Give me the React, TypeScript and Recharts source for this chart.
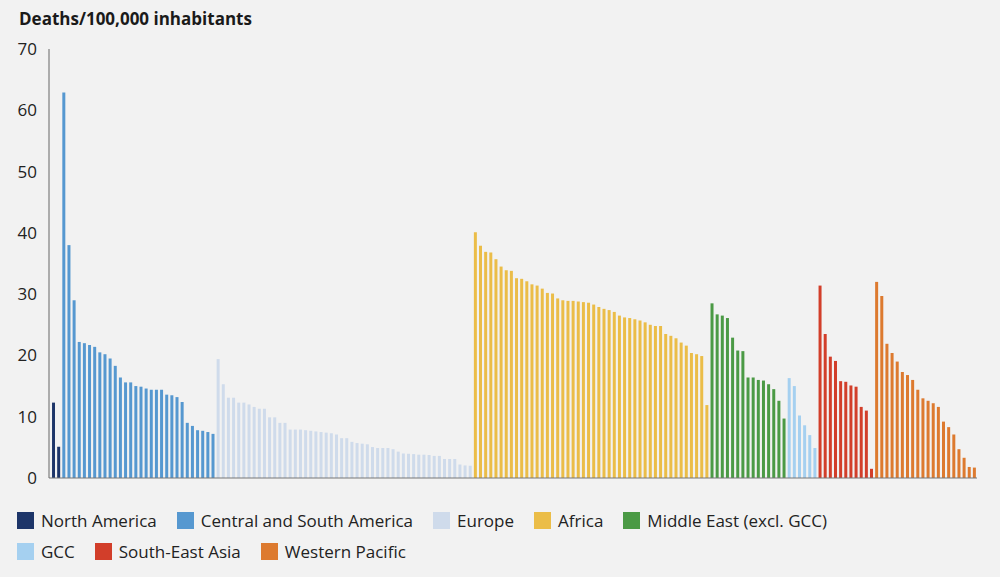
import React from "react";
import { BarChart, Bar, XAxis, YAxis, Cell } from "recharts";

const regions = [
  "North America",
  "Central and South America",
  "Europe",
  "Africa",
  "Middle East (excl. GCC)",
  "GCC",
  "South-East Asia",
  "Western Pacific",
];

const regionColors = [
  "#1d3569",
  "#5698d0",
  "#cfdbeb",
  "#ebbd48",
  "#4b9a45",
  "#a5d0f0",
  "#d23e2a",
  "#dd7a2f",
];

const northAmerica = [12.3, 5.1];
const centralSouthAmerica = [
  62.9, 38.0, 29.0, 22.2, 22.0, 21.7, 21.4, 20.5, 20.2, 19.5,
  18.3, 16.4, 15.6, 15.6, 15.0, 14.9, 14.6, 14.4, 14.4, 14.4,
  13.6, 13.5, 13.2, 12.4, 9.0, 8.5, 7.8, 7.7, 7.5, 7.2,
];
const europe = [
  19.4, 15.3, 13.1, 13.1, 12.3, 12.3, 12.0, 11.6, 11.3, 11.3,
  9.9, 9.9, 9.0, 9.0, 7.9, 7.9, 7.9, 7.8, 7.7, 7.6,
  7.5, 7.4, 7.3, 7.1, 6.5, 6.5, 5.9, 5.7, 5.6, 5.5,
  5.05, 4.9, 4.9, 4.9, 4.7, 4.3, 4.0, 3.95, 3.9, 3.8,
  3.8, 3.75, 3.6, 3.6, 3.1, 3.1, 3.1, 2.2, 2.05, 2.0,
];
const africa = [
  40.1, 37.9, 36.9, 36.8, 35.7, 34.5, 33.9, 33.8, 32.6, 32.5,
  32.1, 31.6, 31.4, 30.9, 30.2, 30.1, 29.3, 29.0, 28.9, 28.9,
  28.8, 28.7, 28.6, 28.3, 27.9, 27.6, 27.4, 27.1, 26.5, 26.2,
  26.1, 25.9, 25.7, 25.4, 25.0, 24.8, 24.8, 23.5, 23.2, 22.8,
  22.1, 21.6, 20.4, 20.2, 19.9, 11.9,
];
const middleEast = [
  28.5, 26.7, 26.5, 26.1, 22.9, 20.8, 20.7, 16.4, 16.4, 16.0,
  15.9, 15.3, 14.5, 12.6, 9.7,
];
const gcc = [16.3, 15.0, 10.2, 8.6, 7.0, 4.9];
const southEastAsia = [31.4, 23.5, 19.8, 19.1, 15.8, 15.7, 15.1, 14.9, 11.6, 11.0, 1.5];
const westernPacific = [
  32.0, 29.7, 21.9, 20.4, 19.0, 17.3, 16.8, 16.0, 14.4, 13.0,
  12.6, 12.2, 11.6, 9.2, 8.3, 7.1, 4.7, 3.3, 1.8, 1.7,
];

const yTicks = [0, 10, 20, 30, 40, 50, 60, 70];
const title = "Deaths/100,000 inhabitants";

const seriesByRegion = [
  northAmerica,
  centralSouthAmerica,
  europe,
  africa,
  middleEast,
  gcc,
  southEastAsia,
  westernPacific,
];

const data = seriesByRegion.flatMap((vals, r) =>
  vals.map((v, j) => ({ key: `${r}-${j}`, value: v, region: r }))
);

export default function App() {
  return (
    <div
      style={{
        position: "absolute",
        left: 0,
        top: 0,
        width: 1000,
        height: 577,
        background: "#f2f2f2",
        fontFamily: "'Open Sans', sans-serif",
        color: "#222",
        overflow: "hidden",
      }}
    >
      <div
        style={{
          position: "absolute",
          left: 19,
          top: 9,
          fontSize: 17,
          fontWeight: 700,
          lineHeight: "20px",
          color: "#1a1a1a",
          whiteSpace: "nowrap",
        }}
      >
        {title}
      </div>
      <div style={{ position: "absolute", left: 0, top: 0 }}>
        <BarChart
          width={1000}
          height={490}
          data={data}
          margin={{ top: 49, right: 23, left: 0, bottom: 0 }}
          barCategoryGap="20%"
        >
          <XAxis
            dataKey="key"
            height={12}
            interval={0}
            tick={false}
            tickLine={{ stroke: "#777" }}
            tickSize={2}
            axisLine={{ stroke: "#777" }}
            padding={{ left: 2, right: 0 }}
          />
          <YAxis
            width={49}
            domain={[0, 70]}
            ticks={yTicks}
            tickLine={false}
            tickMargin={6}
            axisLine={{ stroke: "#666" }}
            tick={{ fontSize: 17, fill: "#222" }}
            interval={0}
          />
          <Bar dataKey="value" isAnimationActive={false}>
            {data.map((d) => (
              <Cell key={d.key} fill={regionColors[d.region]} />
            ))}
          </Bar>
        </BarChart>
      </div>
      <div
        style={{
          position: "absolute",
          left: 17,
          top: 505,
          width: 870,
          display: "flex",
          flexWrap: "wrap",
          fontSize: 17,
          lineHeight: "31px",
          color: "#222",
        }}
      >
        {regions.map((name, i) => (
          <div
            key={name}
            style={{
              display: "flex",
              alignItems: "center",
              height: 31,
              marginRight: 20,
              whiteSpace: "nowrap",
            }}
          >
            <span
              style={{
                display: "inline-block",
                width: 17,
                height: 17,
                background: regionColors[i],
                marginRight: 7,
              }}
            />
            <span>{name}</span>
          </div>
        ))}
      </div>
    </div>
  );
}
